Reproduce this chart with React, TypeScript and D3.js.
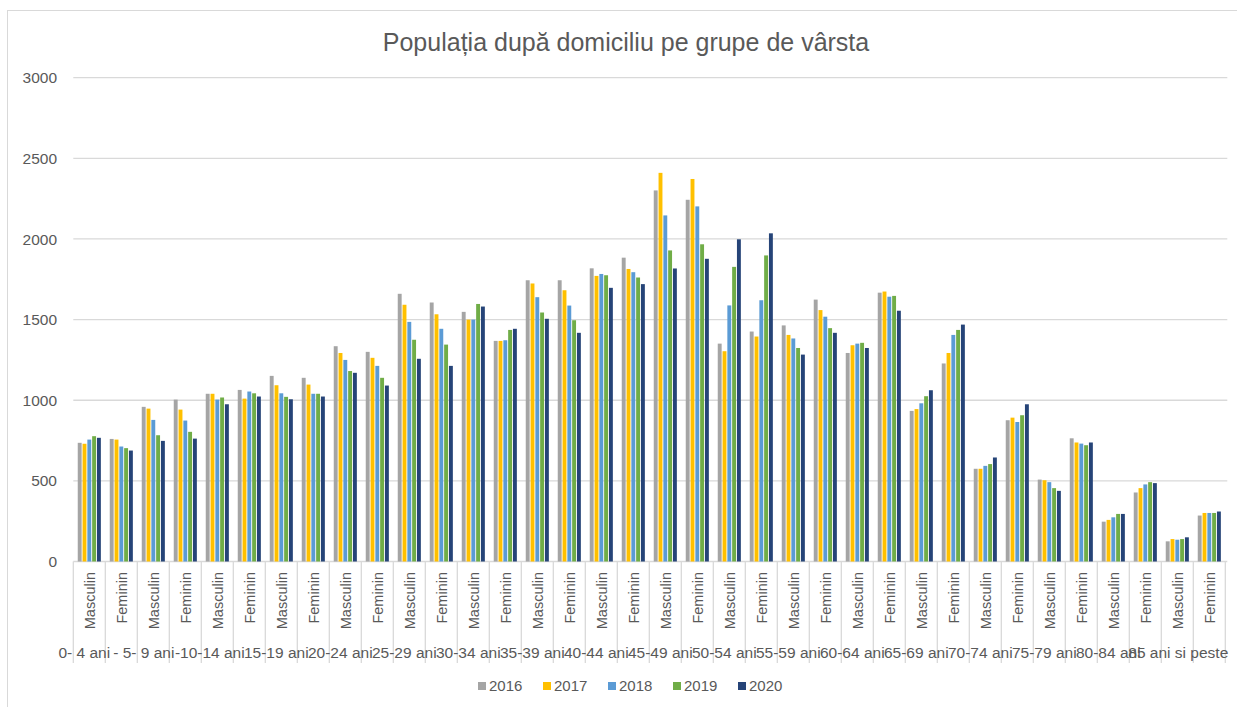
import { scaleBand, scaleLinear } from "d3";
import React from "react";

const years = ["2016", "2017", "2018", "2019", "2020"];
const colors = ["#A5A5A5", "#FFC000", "#5B9BD5", "#70AD47", "#264478"];

const sexes = ["Masculin", "Feminin"];
const ageGroups = [
  "0- 4 ani",
  "- 5- 9 ani",
  "-10-14 ani",
  "15-19 ani",
  "20-24 ani",
  "25-29 ani",
  "30-34 ani",
  "35-39 ani",
  "40-44 ani",
  "45-49 ani",
  "50-54 ani",
  "55-59 ani",
  "60-64 ani",
  "65-69 ani",
  "70-74 ani",
  "75-79 ani",
  "80-84 ani",
  "85 ani si peste"
];

const yTicks = [0, 500, 1000, 1500, 2000, 2500, 3000];

// one value per category, in order: age group x (Masculin, Feminin)
const values2016 = [736, 760, 959, 1004, 1040, 1064, 1151, 1139, 1335, 1300, 1660, 1606, 1548, 1368, 1744, 1744, 1818, 1884, 2301, 2243, 1351, 1426, 1464, 1624, 1293, 1667, 934, 1228, 575, 876, 508, 764, 247, 428, 125, 285];
const values2017 = [730, 756, 948, 942, 1040, 1010, 1093, 1097, 1293, 1263, 1592, 1533, 1500, 1368, 1724, 1682, 1771, 1814, 2410, 2372, 1304, 1395, 1405, 1559, 1341, 1674, 945, 1293, 575, 892, 504, 738, 258, 455, 139, 301];
const values2018 = [756, 713, 878, 874, 1004, 1054, 1043, 1040, 1250, 1213, 1486, 1443, 1500, 1372, 1639, 1587, 1783, 1794, 2146, 2202, 1588, 1620, 1383, 1518, 1351, 1642, 981, 1405, 593, 865, 492, 731, 274, 478, 135, 301];
const values2019 = [777, 703, 783, 804, 1017, 1043, 1021, 1040, 1181, 1139, 1375, 1345, 1597, 1436, 1544, 1496, 1775, 1761, 1929, 1967, 1827, 1898, 1324, 1447, 1356, 1647, 1025, 1436, 604, 907, 455, 721, 295, 492, 139, 301];
const values2020 = [767, 688, 748, 762, 975, 1023, 1006, 1023, 1170, 1091, 1257, 1213, 1581, 1443, 1505, 1418, 1697, 1720, 1817, 1877, 1998, 2035, 1283, 1418, 1324, 1555, 1062, 1469, 645, 975, 438, 738, 295, 486, 150, 310];

const series = [values2016, values2017, values2018, values2019, values2020];

const FONT = "'Liberation Sans', Arial, sans-serif";
const TEXT = "#595959";
const GRID = "#D9D9D9";

export default function App() {
  const WIDTH = 1237;
  const HEIGHT = 707;
  const LEFT = 73.3;
  const RIGHT = 1225.3;
  const BOTTOM = 561.5;
  const TOP = 77.7;
  const AXIS_END = 663;

  const categories = ageGroups.flatMap(a => sexes.map(s => `${a}|${s}`));

  const yScale = scaleLinear().domain([0, 3000]).range([BOTTOM, TOP]);

  const xScale = scaleBand<string>()
    .domain(categories)
    .range([LEFT, RIGHT])
    .paddingInner(0.25)
    .paddingOuter(0.125);

  const xInner = scaleBand<string>()
    .domain(years)
    .range([0, xScale.bandwidth()]);

  const step = xScale.step();
  const barW = xInner.bandwidth() - 0.9;

  return (
    <svg
      width={WIDTH}
      height={HEIGHT}
      style={{ position: "absolute", left: 0, top: 0, background: "#fff" }}
      fontFamily={FONT}
    >
      <rect x={7.5} y={10.5} width={1240} height={720} fill="#fff" stroke={GRID} />

      <text x={626} y={51} textAnchor="middle" fontSize={25} fill={TEXT}>
        Populația după domiciliu pe grupe de vârsta
      </text>

      {/* grid + y labels */}
      {yTicks.map(v => (
        <g key={v} transform={`translate(0, ${yScale(v)})`}>
          <line x1={LEFT} x2={RIGHT + 2} stroke={GRID} strokeWidth={1.3} />
          <text x={57} dy="0.36em" textAnchor="end" fontSize={15.5} fill={TEXT}>
            {v}
          </text>
        </g>
      ))}

      {/* bars */}
      {categories.map((c, i) => (
        <g key={c} transform={`translate(${xScale(c)}, 0)`}>
          {series.map((s, j) => (
            <rect
              key={j}
              x={xInner(years[j])! + 0.45}
              y={yScale(s[i])}
              width={barW}
              height={BOTTOM - yScale(s[i])}
              fill={colors[j]}
            />
          ))}
        </g>
      ))}

      {/* category separators */}
      {categories.concat(["end"]).map((c, i) => (
        <line
          key={c}
          x1={LEFT + i * step}
          x2={LEFT + i * step}
          y1={BOTTOM}
          y2={AXIS_END}
          stroke={GRID}
          strokeWidth={1.3}
        />
      ))}

      {/* sex labels */}
      {categories.map(c => {
        const cx = xScale(c)! + xScale.bandwidth() / 2;
        return (
          <text
            key={c}
            transform={`translate(${cx}, 572) rotate(-90)`}
            textAnchor="end"
            dy="0.38em"
            fontSize={14.5}
            fill={TEXT}
          >
            {c.split("|")[1]}
          </text>
        );
      })}

      {/* age group labels */}
      {ageGroups.map(a => {
        const start = xScale(`${a}|${sexes[0]}`)! - (step - xScale.bandwidth()) / 2;
        const shift = a.startsWith("- ") ? 4.5 : a.startsWith("-") ? 2.5 : 0;
        const isLast = a === ageGroups[ageGroups.length - 1];
        const cx = start + step - (isLast ? 15 : 21) - shift;
        return (
          <text key={a} x={cx} y={658} textAnchor="middle" fontSize={15.5} fill={TEXT}>
            {a}
          </text>
        );
      })}

      {/* legend */}
      {years.map((y, j) => (
        <g key={y} transform={`translate(${478 + j * 65}, 686)`}>
          <rect x={0} y={-4} width={8} height={8} fill={colors[j]} />
          <text x={11} dy="0.36em" fontSize={15} fill={TEXT}>
            {y}
          </text>
        </g>
      ))}
    </svg>
  );
}
